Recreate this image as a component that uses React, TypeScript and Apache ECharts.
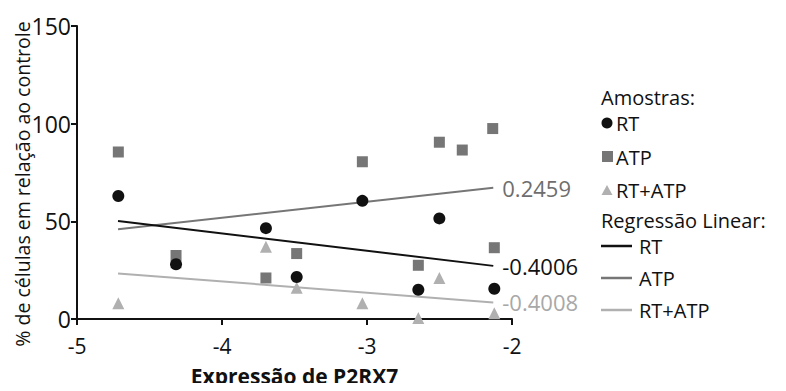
import React, { useEffect, useRef } from "react";
import * as echarts from "echarts";

const rtX = [-4.715, -4.317, -3.697, -3.485, -3.032, -2.646, -2.501, -2.122];
const rtY = [63, 28, 46.5, 21.5, 60.5, 15, 51.5, 15.5];
const atpX = [-4.715, -4.317, -3.697, -3.485, -3.032, -2.646, -2.501, -2.343, -2.133, -2.122];
const atpY = [85.5, 32.5, 21, 33.5, 80.5, 27.5, 90.5, 86.5, 97.5, 36.5];
const rtAtpX = [-4.715, -4.317, -3.697, -3.485, -3.032, -2.646, -2.501, -2.122];
const rtAtpY = [8, 29, 37, 16, 8, 0.5, 21, 3];

const lineX = [-4.717, -2.129];
const rtLineY = [50.2, 27.2];
const atpLineY = [45.9, 67.2];
const rtAtpLineY = [23.3, 8.5];
const lineLabels = ["-0.4006", "0.2459", "-0.4008"];

const xTicks = { min: -5, max: -2, interval: 1 };
const yTicks = { min: 0, max: 150, interval: 50 };

const C_RT = "#111111";
const C_ATP = "#767676";
const C_RTATP = "#b0b0b0";
const FONT = "'Open Sans', 'Noto Sans', sans-serif";

function pts(xs: number[], ys: number[]) {
  return xs.map((x, i) => [x, ys[i]]);
}

function lineSeries(ys: number[], label: string, color: string, labelColor: string) {
  return {
    type: "line",
    data: pts(lineX, ys),
    symbol: "none",
    lineStyle: { color, width: 2 },
    z: 1,
    endLabel: {
      show: true,
      distance: 9,
      formatter: label,
      color: labelColor,
      fontSize: 22,
      fontFamily: FONT,
    },
  };
}

export default function App() {
  const ref = useRef<HTMLDivElement>(null);
  useEffect(() => {
    const chart = echarts.init(ref.current!, null, { renderer: "svg" });
    const lx = 601;
    const legendText = (text: string, x: number, y: number) => ({
      type: "text",
      x,
      y,
      style: {
        text,
        fill: "#111",
        fontSize: 20,
        lineHeight: 20,
        fontFamily: FONT,
        textVerticalAlign: "middle",
      },
    });
    const legendLine = (y: number, color: string) => ({
      type: "line",
      shape: { x1: lx, y1: y, x2: lx + 31, y2: y },
      style: { stroke: color, lineWidth: 2.5 },
    });
    chart.setOption({
      animation: false,
      backgroundColor: "#ffffff",
      grid: { left: 77, right: 274, top: 26, bottom: 71, containLabel: false },
      xAxis: {
        type: "value",
        min: xTicks.min,
        max: xTicks.max,
        interval: xTicks.interval,
        splitLine: { show: false },
        axisLine: { show: true, onZero: false, lineStyle: { color: "#111", width: 2 } },
        axisTick: { show: true, length: 6, lineStyle: { color: "#111", width: 2 } },
        axisLabel: { color: "#111", fontSize: 21, fontFamily: FONT, margin: 16 },
        name: "Expressão de P2RX7",
        nameLocation: "middle",
        nameGap: 46,
        nameTextStyle: { color: "#111", fontSize: 21, fontWeight: "bold", fontFamily: FONT },
      },
      yAxis: {
        type: "value",
        min: yTicks.min,
        max: yTicks.max,
        interval: yTicks.interval,
        splitLine: { show: false },
        axisLine: { show: true, onZero: false, lineStyle: { color: "#111", width: 2 } },
        axisTick: { show: true, length: 6, lineStyle: { color: "#111", width: 2 } },
        axisLabel: { color: "#111", fontSize: 23, fontFamily: FONT, margin: 6 },
      },
      graphic: [
        {
          type: "text",
          x: 22,
          y: 184,
          rotation: Math.PI / 2,
          style: {
            text: "% de células em relação ao controle",
            fill: "#111",
            fontSize: 19.5,
            fontFamily: FONT,
            textAlign: "center",
            textVerticalAlign: "middle",
          },
        },
        legendText("Amostras:", lx, 97),
        { type: "circle", shape: { cx: lx + 6, cy: 123, r: 5.5 }, style: { fill: C_RT } },
        legendText("RT", lx + 15, 123),
        { type: "rect", shape: { x: lx + 1, y: 151, width: 11, height: 11 }, style: { fill: C_ATP } },
        legendText("ATP", lx + 15, 157),
        {
          type: "polygon",
          shape: { points: [[lx + 6, 185], [lx + 11.5, 195], [lx + 0.5, 195]] },
          style: { fill: C_RTATP },
        },
        legendText("RT+ATP", lx + 15, 190),
        legendText("Regressão Linear:", lx, 220),
        legendLine(246, C_RT),
        legendText("RT", lx + 38, 246),
        legendLine(278, C_ATP),
        legendText("ATP", lx + 38, 278),
        legendLine(310, C_RTATP),
        legendText("RT+ATP", lx + 38, 310),
      ],
      series: [
        lineSeries(rtAtpLineY, lineLabels[2], C_RTATP, "#a8a8a8"),
        lineSeries(atpLineY, lineLabels[1], C_ATP, "#6e6e6e"),
        lineSeries(rtLineY, lineLabels[0], C_RT, "#111111"),
        {
          type: "scatter",
          data: pts(rtAtpX, rtAtpY),
          symbol: "triangle",
          symbolSize: 12,
          itemStyle: { color: C_RTATP, opacity: 1 },
          z: 2,
        },
        {
          type: "scatter",
          data: pts(atpX, atpY),
          symbol: "rect",
          symbolSize: 11,
          itemStyle: { color: C_ATP, opacity: 1 },
          z: 3,
        },
        {
          type: "scatter",
          data: pts(rtX, rtY),
          symbol: "circle",
          symbolSize: 12,
          itemStyle: { color: C_RT, opacity: 1 },
          z: 4,
        },
      ],
    });
    return () => chart.dispose();
  }, []);
  return <div ref={ref} style={{ width: 786, height: 391, margin: -8 }} />;
}
